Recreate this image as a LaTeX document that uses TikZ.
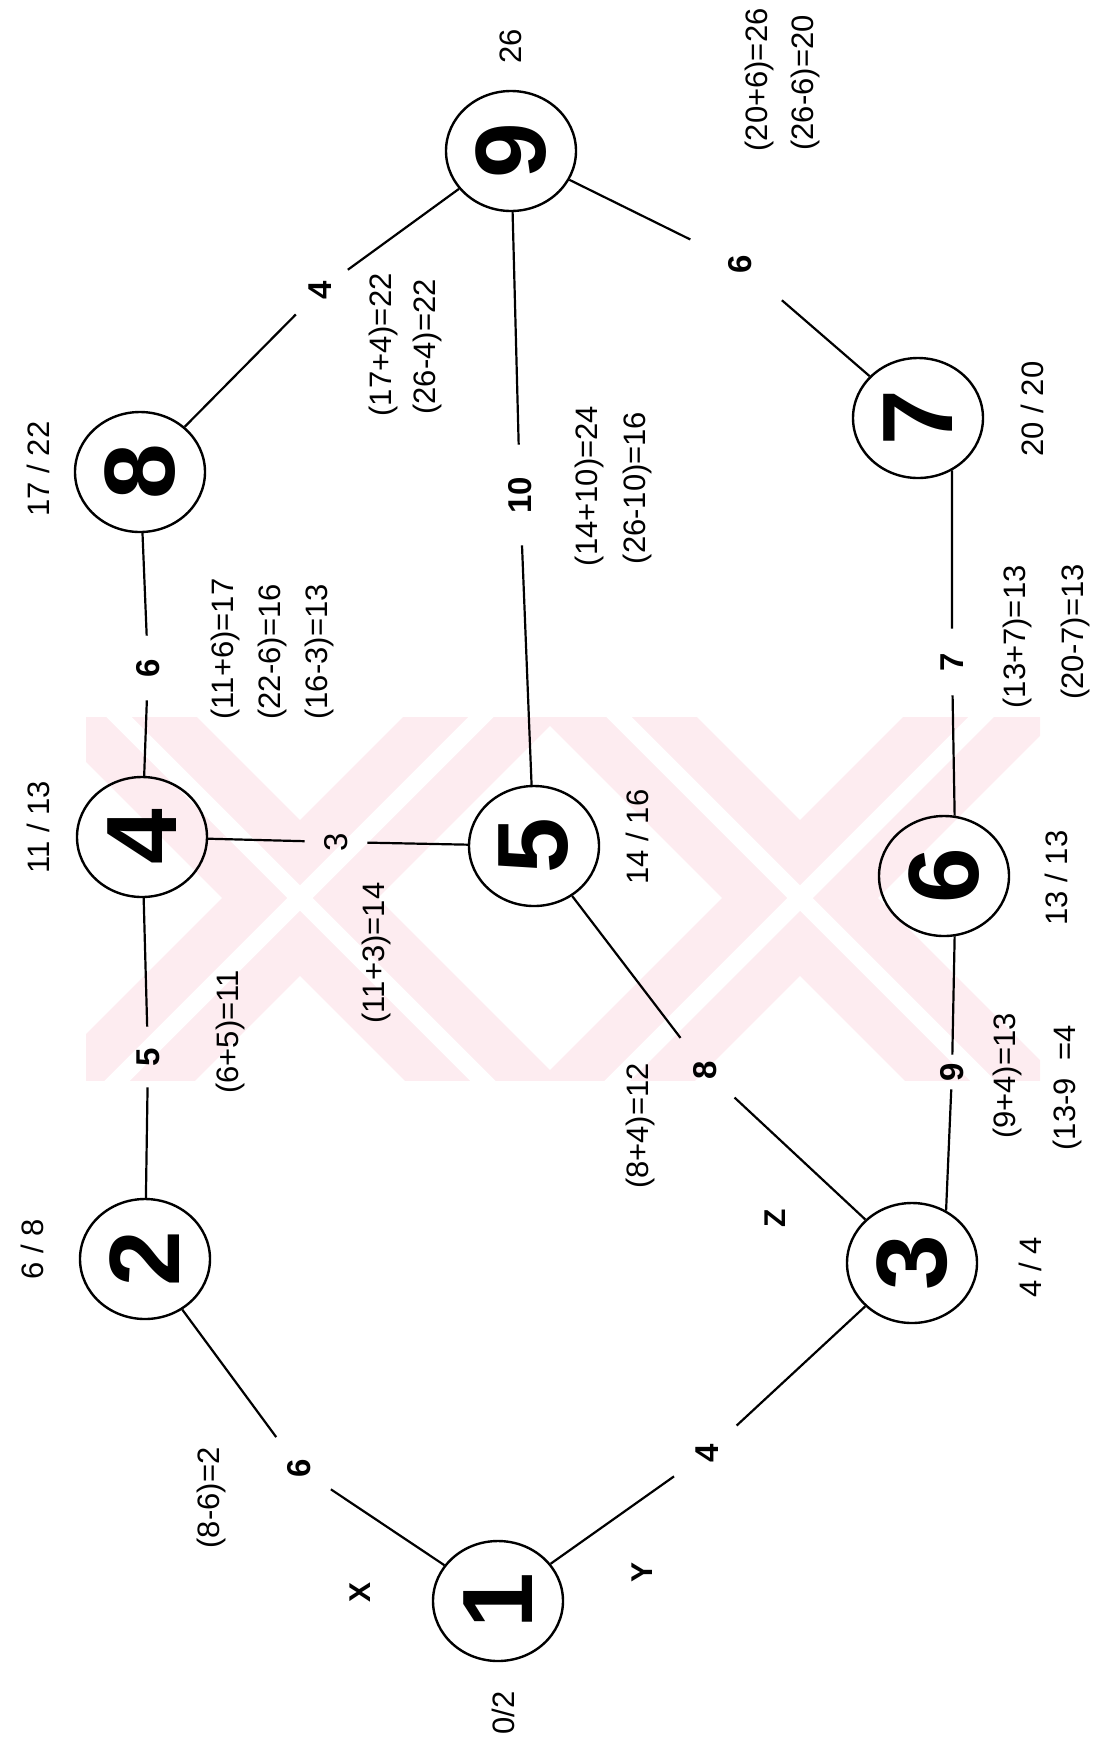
\documentclass[tikz,border=0pt]{standalone}
\usepackage{fontspec}
\setmainfont{Liberation Sans}
\usepackage{tikz}
\usetikzlibrary{shapes.geometric}
\definecolor{wmark}{RGB}{253,236,240}

\begin{document}
\begin{tikzpicture}[x=0.5pt, y=-0.5pt,
  event/.style={draw, ellipse, line width=1.2pt, minimum width=65pt, minimum height=60pt, inner sep=0pt, font=\fontsize{50}{50}\selectfont\bfseries},
  dur/.style={circle, inner sep=0pt, minimum size=#1, rotate=90, font=\fontsize{16.5}{18}\selectfont\bfseries},
  dur/.default=32pt,
  calc/.style={rotate=90, inner sep=0pt, font=\fontsize{15.5}{18}\selectfont},
  slot/.style={rotate=90, inner sep=0pt, font=\fontsize{15.5}{18}\selectfont},
  tag/.style={rotate=90, inner sep=0pt, font=\fontsize{15}{18}\selectfont\bfseries},
  conn/.style={line width=1.1pt}]
\useasboundingbox (0,0) rectangle (1097,1752);

% watermark
\begin{scope}
\clip (86,717) rectangle (1040,1080);
\foreach \c in {300,800} {
  \draw[wmark, line width=55pt] (\c-300,598) -- (\c+300,1198);
  \draw[wmark, line width=55pt] (\c+300,598) -- (\c-300,1198);
  \draw[white, line width=9pt] (\c-300,598) -- (\c+300,1198);
  \draw[white, line width=9pt] (\c+300,598) -- (\c-300,1198);
}
\end{scope}

% events
\node[event] (n1) at (498,1601) {\rotatebox{90}{1}};
\node[event] (n2) at (145,1259) {\rotatebox{90}{2}};
\node[event] (n3) at (912,1263) {\rotatebox{90}{3}};
\node[event] (n4) at (142,837) {\rotatebox{90}{4}};
\node[event] (n5) at (534,846) {\rotatebox{90}{5}};
\node[event] (n6) at (944,876) {\rotatebox{90}{6}};
\node[event] (n7) at (918,418) {\rotatebox{90}{7}};
\node[event] (n8) at (140,472) {\rotatebox{90}{8}};
\node[event] (n9) at (511,151) {\rotatebox{90}{9}};

% durations
\node[dur=38pt] (d12) at (299,1468) {6};
\node[dur=40pt] (d13) at (707,1453) {4};
\node[dur=30pt] (d24) at (148,1057) {5};
\node[dur=40pt] (d35) at (705,1070) {8};
\node[dur=17pt] (d36) at (952,1072) {9};
\node[dur=31pt, font=\fontsize{16.5}{18}\selectfont] (d45) at (336,842) {3};
\node[dur=32pt] (d48) at (148,668) {6};
\node[dur=50pt] (d59) at (520,495) {10};
\node[dur=33pt] (d67) at (952,662) {7};
\node[dur=34pt] (d89) at (320,290) {4};
\node[dur=55pt] (d97) at (740,264) {6};

\draw[conn] (n1) -- (d12);
\draw[conn] (d12) -- (n2);
\draw[conn] (n1) -- (d13);
\draw[conn] (d13) -- (n3);
\draw[conn] (n2) -- (d24);
\draw[conn] (d24) -- (n4);
\draw[conn] (n3) -- (d35);
\draw[conn] (d35) -- (n5);
\draw[conn] (n3.57) -- (d36);
\draw[conn] (d36) -- (n6.-80);
\draw[conn] (n4) -- (d45);
\draw[conn] (d45) -- (n5);
\draw[conn] (n4) -- (d48);
\draw[conn] (d48) -- (n8);
\draw[conn] (n5) -- (d59);
\draw[conn] (d59) -- (n9);
\draw[conn] (n6.80) -- (d67);
\draw[conn] (d67) -- (n7.-57);
\draw[conn] (n8) -- (d89);
\draw[conn] (d89) -- (n9);
\draw[conn] (n9) -- (d97);
\draw[conn] (d97) -- (n7);

% times
\node[slot] (s1) at (503,1713) {0/2};
\node[slot] (s2) at (32,1249) {6 / 8};
\node[slot] (s3) at (1030,1267) {4 / 4};
\node[slot] (s4) at (38,827) {11 / 13};
\node[slot] (s5) at (637,837) {14 / 16};
\node[slot] (s6) at (1056,878) {13 / 13};
\node[slot] (s7) at (1032,409) {20 / 20};
\node[slot] (s8) at (38,469) {17 / 22};
\node[slot] (s9) at (511,46) {26};

% activities
\node[tag] (ax) at (360,1592) {X};
\node[tag] (ay) at (642,1572) {Y};
\node[tag] (az) at (775,1218) {Z};

% calculations
\node[calc] (c1) at (211,1498) {(8-6)=2};
\node[calc] (c2) at (230,1032) {(6+5)=11};
\node[calc] (c3) at (376,953) {(11+3)=14};
\node[calc] (c4) at (640,1126) {(8+4)=12};
\node[calc] (c5) at (1007,1076) {(9+4)=13};
\node[calc] (c6) at (1067,1088) {(13-9\ \ =4};
\node[calc] (c7) at (225,649) {(11+6)=17};
\node[calc] (c8) at (272,652) {(22-6)=16};
\node[calc] (c9) at (319,652) {(16-3)=13};
\node[calc] (c10) at (1017,637) {(13+7)=13};
\node[calc] (c11) at (1075,632) {(20-7)=13};
\node[calc] (c12) at (589,486) {(14+10)=24};
\node[calc] (c13) at (637,488) {(26-10)=16};
\node[calc] (c14) at (383,345) {(17+4)=22};
\node[calc] (c15) at (427,347) {(26-4)=22};
\node[calc] (c16) at (759,80) {(20+6)=26};
\node[calc] (c17) at (805,83) {(26-6)=20};
\end{tikzpicture}
\end{document}
